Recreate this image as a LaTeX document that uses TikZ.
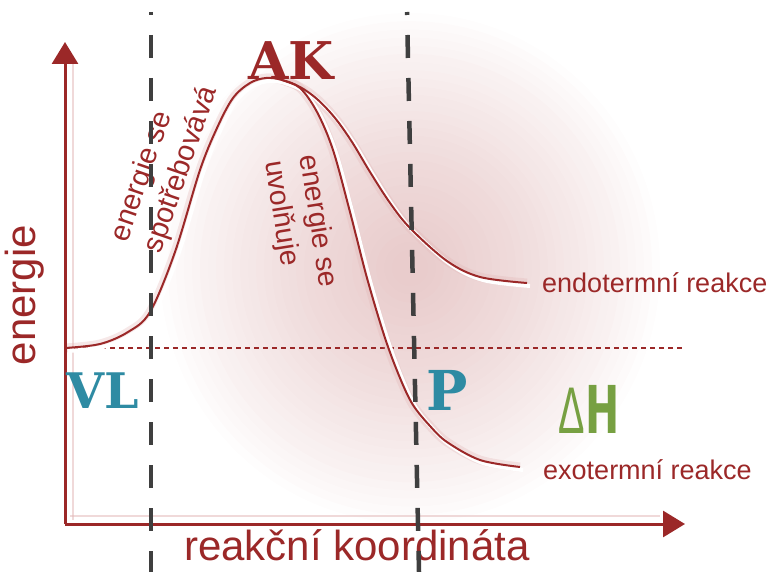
\documentclass[tikz,border=0pt]{standalone}
\usepackage{fontspec}
\usepackage{graphicx}
\setmainfont{Liberation Sans}
\newfontfamily\slab{DejaVu Serif}
\newfontfamily\heavysans{DejaVu Sans}
\usetikzlibrary{arrows.meta}
\definecolor{myred}{RGB}{155,40,40}
\definecolor{teal}{RGB}{46,139,163}
\definecolor{mygreen}{RGB}{119,160,66}
\definecolor{dgray}{RGB}{63,63,63}
\definecolor{haze}{RGB}{205,140,140}
\definecolor{ghostpink}{RGB}{225,180,180}
\begin{document}
\begin{tikzpicture}[x=1pt,y=-1pt,
  axis/.style={draw=myred, line width=3pt},
  redcurve/.style={draw=myred, line width=2pt},
  halo/.style={draw=white, line width=4pt},
  softhalo/.style={draw=ghostpink, line width=9pt, opacity=0.3},
  gdash/.style={draw=dgray, line width=4.5pt, dash pattern=on 23pt off 20pt, dash phase=20pt},
  dotline/.style={draw=myred, line width=1.3pt, dash pattern=on 5pt off 4pt},
  lab/.style={text=myred, inner sep=0pt},
  big/.style={inner sep=0pt, font=\slab\bfseries\fontsize{52}{52}\selectfont}
]
\useasboundingbox (0,0) rectangle (781,572);
% haze
\foreach \i in {1,...,30}{
  \fill[haze, opacity=0.021] (410,268) ellipse ({10+240*\i/30} and {10+245*\i/30});
}
% coordinates
\coordinate (O) at (65,524);
\coordinate (Ytop) at (65,42);
\coordinate (Xend) at (685,524);
\coordinate (D0) at (65,348);
\coordinate (D1) at (683,348);
\coordinate (L0) at (151,12);
\coordinate (L1) at (151,572);
\coordinate (R0) at (407,12);
\coordinate (R1) at (419,572);
% ghost axis lines
\draw[draw=ghostpink, line width=2pt, opacity=0.5] (73,520) -- (73,60);
\draw[draw=ghostpink, line width=2pt, opacity=0.5] (70,516) -- (660,516);
% dotted baseline
\draw[dotline] (D0) -- (D1);
% curves
\def\exopts{(65,348) (100,344) (128,332) (150,312) (175,252) (200,170) (217,128) (233,98) (250,83) (266,78) (282,80) (300,88) (317,112) (333,150) (350,212) (367,278) (385,338) (400,378) (413,405) (430,426) (447,442) (480,460) (520,467)}
\def\endopts{(282,80) (300,87) (317,99) (335,118) (352,142) (370,172) (390,203) (410,228) (447,261) (480,277) (527,283)}
\draw[softhalo] plot[smooth, tension=0.55] coordinates {\exopts};
\draw[softhalo] plot[smooth, tension=0.55] coordinates {\endopts};
\draw[halo, shift={(3,3)}] plot[smooth, tension=0.55] coordinates {\exopts};
\draw[halo, shift={(3,3)}] plot[smooth, tension=0.55] coordinates {\endopts};
\draw[redcurve] plot[smooth, tension=0.55] coordinates {\exopts};
\draw[redcurve] plot[smooth, tension=0.55] coordinates {\endopts};
% axes
\draw[axis, -{Triangle[length=22pt,width=26pt]}] (O) -- (Ytop);
\draw[axis, -{Triangle[length=22pt,width=26pt]}] (O) -- (Xend);
% axis labels
\node[lab, rotate=90, anchor=base, font=\fontsize{42}{48}\selectfont] (en) at (35,295) {energie};
\node[lab, anchor=base, font=\fontsize{42}{48}\selectfont] (rk) at (357,560) {reakční koordináta};
% reaction labels
\node[lab, anchor=base west, font=\fontsize{27}{32}\selectfont] (endo) at (542,292) {endotermní reakce};
\node[lab, anchor=base west, font=\fontsize{27}{32}\selectfont] (exo) at (543,479) {exotermní reakce};
% rotated labels
\node[lab, rotate=71, align=left, font=\fontsize{29}{35}\selectfont] (spot) at (165,164) {energie se\\spotřebovává};
\node[lab, rotate=-81, align=left, font=\fontsize{28.5}{35}\selectfont] (uvol) at (300,224) {energie se\\uvolňuje};
% big letters
\node[big, text=myred, anchor=base] (AK) at (291,80) {AK};
\node[big, text=teal, anchor=base, font=\slab\bfseries\fontsize{49}{49}\selectfont] (VL) at (103,408) {VL};
\node[big, text=teal, anchor=base, font=\slab\bfseries\fontsize{55}{55}\selectfont] (P) at (447,410) {P};
\node[inner sep=0pt, text=mygreen, anchor=base, font=\fontsize{66}{66}\selectfont] (DH) at (589,433) {\scalebox{0.6}[1]{Δ}\scalebox{0.62}[1]{\heavysans\bfseries H}};
% dashed guides
\draw[gdash] (L0) -- (L1);
\draw[gdash] (R0) -- (R1);
\end{tikzpicture}
\end{document}
